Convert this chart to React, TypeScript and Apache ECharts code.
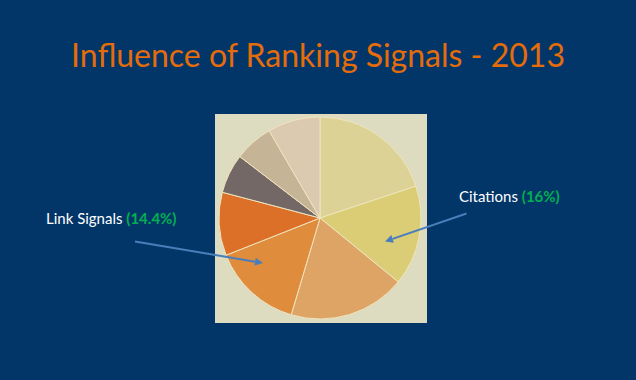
import React, { useEffect, useRef } from "react";
import * as echarts from "echarts";

const sliceNames = [
  "Signal A",
  "Citations",
  "Signal C",
  "Link Signals",
  "Signal E",
  "Signal F",
  "Signal G",
  "Signal H",
];
const sliceValues = [19.9, 16, 18.7, 14.4, 10.1, 6.3, 6.2, 8.4];
const sliceColors = [
  "#dcd296",
  "#dbcd76",
  "#dea466",
  "#df8c3d",
  "#dc7028",
  "#736865",
  "#c6b497",
  "#dccab0",
];
const titleText = "Influence of Ranking Signals - 2013";
const labelLink = { name: "Link Signals", pct: "(14.4%)" };
const labelCite = { name: "Citations", pct: "(16%)" };

function arrow(x1: number, y1: number, x2: number, y2: number, color: string) {
  const dx = x2 - x1;
  const dy = y2 - y1;
  const len = Math.sqrt(dx * dx + dy * dy);
  const ux = dx / len;
  const uy = dy / len;
  const hl = 8;
  const hw = 4;
  const bx = x2 - ux * hl;
  const by = y2 - uy * hl;
  const px = -uy * hw;
  const py = ux * hw;
  return [
    {
      type: "line",
      shape: { x1, y1, x2: bx, y2: by },
      style: { stroke: color, lineWidth: 2 },
      z: 10,
    },
    {
      type: "polygon",
      shape: {
        points: [
          [x2, y2],
          [bx + px, by + py],
          [bx - px, by - py],
        ],
      },
      style: { fill: color },
      z: 10,
    },
  ];
}

function labelText(x: number, y: number, name: string, pct: string) {
  return {
    type: "text",
    x,
    y,
    style: {
      text: name + " {g|" + pct + "}",
      fill: "#ffffff",
      fontFamily: "Lato",
      fontSize: 15,
      verticalAlign: "middle",
      rich: {
        g: {
          fill: "#00b050",
          fontWeight: "bold",
          fontFamily: "Lato",
          fontSize: 15,
        },
      },
    },
    z: 10,
  };
}

export default function App() {
  const ref = useRef<HTMLDivElement>(null);
  useEffect(() => {
    document.body.style.margin = "0";
    const chart = echarts.init(ref.current!, undefined, { renderer: "svg" });
    const arrowColor = "#4a7ebb";
    chart.setOption({
      animation: false,
      backgroundColor: "#023669",
      title: {
        text: titleText,
        left: "center",
        top: 33,
        textStyle: {
          color: "#e46c0a",
          fontFamily: "Lato",
          fontWeight: "normal",
          fontSize: 32,
        },
      },
      graphic: [
        {
          type: "rect",
          shape: { x: 215, y: 114, width: 212, height: 209 },
          style: { fill: "#dedcc0" },
          z: 0,
        },
        labelText(46, 218, labelLink.name, labelLink.pct),
        labelText(459, 196, labelCite.name, labelCite.pct),
        ...arrow(135, 241.5, 263, 263, arrowColor),
        ...arrow(466.5, 213.5, 385, 241.5, arrowColor),
      ],
      series: [
        {
          type: "pie",
          center: [320, 218],
          radius: 101,
          startAngle: 90,
          clockwise: true,
          label: { show: false },
          labelLine: { show: false },
          emphasis: { disabled: true },
          itemStyle: { borderColor: "#efe4bf", borderWidth: 1 },
          data: sliceValues.map((v, i) => ({
            name: sliceNames[i],
            value: v,
            itemStyle: { color: sliceColors[i] },
          })),
          z: 5,
        },
      ],
    });
    return () => chart.dispose();
  }, []);
  return <div ref={ref} style={{ width: 636, height: 380 }} />;
}
